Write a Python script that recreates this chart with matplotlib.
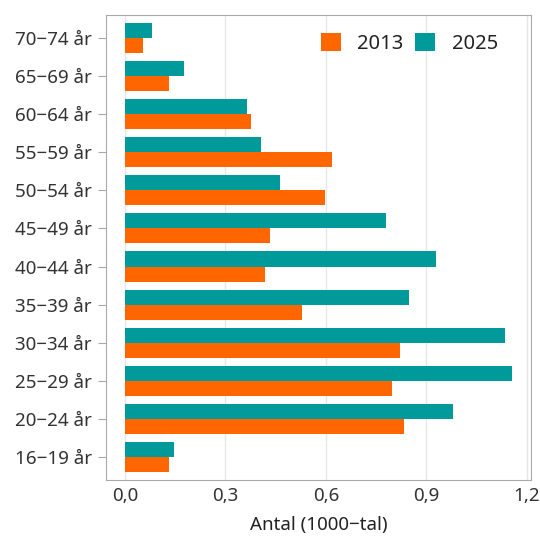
import matplotlib
matplotlib.use("Agg")
import matplotlib.pyplot as plt
import numpy as np
from matplotlib.ticker import FuncFormatter

# Age groups, bottom to top
groups = ["16−19 år", "20−24 år", "25−29 år", "30−34 år", "35−39 år", "40−44 år",
          "45−49 år", "50−54 år", "55−59 år", "60−64 år", "65−69 år", "70−74 år"]
# Antal (1000-tal)
v2013 = [0.131, 0.833, 0.797, 0.821, 0.528, 0.418, 0.433, 0.597, 0.618, 0.376, 0.131, 0.054]
v2025 = [0.146, 0.979, 1.155, 1.134, 0.848, 0.928, 0.779, 0.463, 0.406, 0.364, 0.176, 0.081]
xticks = [0.0, 0.3, 0.6, 0.9, 1.2]

plt.rcParams["font.family"] = ["Noto Sans", "DejaVu Sans"]

fig = plt.figure(figsize=(5.4, 5.38), dpi=100)
ax = fig.add_axes([0.196, 0.108, 0.787, 0.864])

y = np.arange(len(groups))
h = 0.395
ax.barh(y - h / 2, v2013, height=h, color="#ff6600", label="2013", zorder=3)
ax.barh(y + h / 2, v2025, height=h, color="#009a9a", label="2025", zorder=3)

ax.set_ylim(-0.6, len(groups) - 0.4)
ax.set_xlim(-0.057, 1.212)
ax.set_yticks(y)
ax.set_yticklabels(groups)
ax.set_xticks(xticks)
ax.xaxis.set_major_formatter(FuncFormatter(lambda v, p: f"{v:.1f}".replace(".", ",")))
ax.grid(axis="x", color="#e6e6e6", linewidth=1, zorder=0)

for s in ax.spines.values():
    s.set_color("#aaaaaa")
ax.tick_params(axis="y", length=6, color="#aaaaaa", labelsize=13.5, labelcolor="#333333", pad=4)
ax.tick_params(axis="x", length=0, labelsize=13.5, labelcolor="#333333", pad=5)
ax.set_xlabel("Antal (1000−tal)", fontsize=13.5, color="#222222", labelpad=8)

ax.legend(loc="upper right", ncol=2, frameon=False, fontsize=14.5,
          handlelength=1.0, handleheight=1.0, columnspacing=0.6, handletextpad=0.8,
          bbox_to_anchor=(0.965, 1.0), labelcolor="#222222")

fig.savefig("out.png", dpi=100)
